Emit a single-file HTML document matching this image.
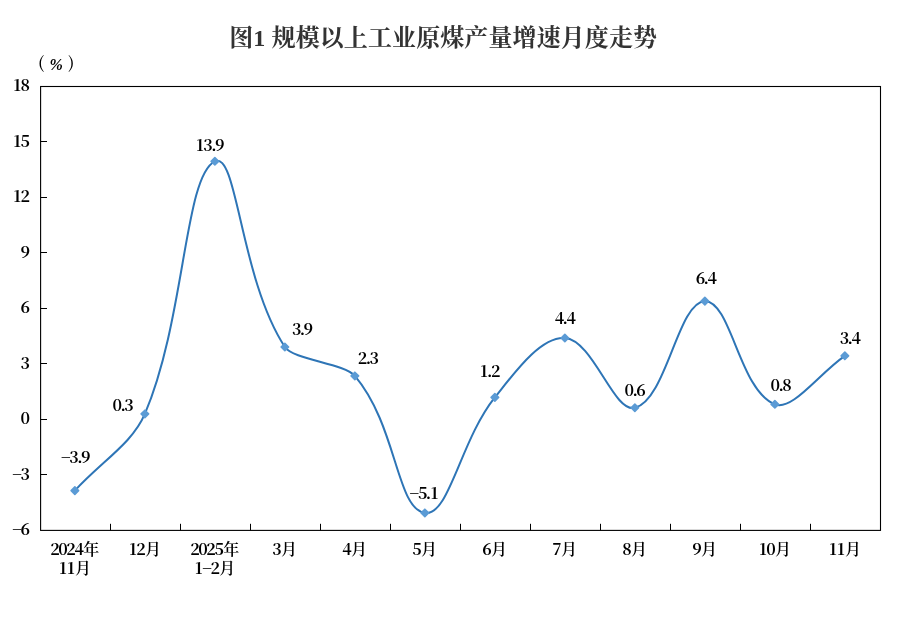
<!DOCTYPE html>
<html lang="zh"><head><meta charset="utf-8"><title>图1 规模以上工业原煤产量增速月度走势</title>
<style>html,body{margin:0;padding:0;background:#fff}svg{display:block}text{font-family:"Noto Serif CJK SC","Liberation Serif",serif;fill:#000;font-size:16px;font-weight:700;letter-spacing:0}.t{font-family:"Liberation Serif","Noto Serif CJK SC",serif;font-size:24px;font-weight:700;fill:#333;letter-spacing:0.1px}.c{font-size:16px;font-weight:600;letter-spacing:0}.p{font-size:16.5px;font-weight:600;text-shadow:none}</style></head><body>
<svg width="909" height="622" viewBox="0 0 909 622">
<rect width="909" height="622" fill="#fff"/>
<text class="t" x="443.2" y="46" text-anchor="middle">图1 规模以上工业原煤产量增速月度走势</text>
<text class="p" y="69"><tspan x="37.9">(</tspan><tspan x="49.4" y="70" style="font-family:'Liberation Serif',serif;font-style:italic;font-weight:700;font-size:16px">%</tspan><tspan x="67.9" y="69">)</tspan></text>
<rect x="40.6" y="86.5" width="839.9" height="443.9" fill="none" stroke="#000" stroke-width="1.1"/>
<path d="M110.5,530.4v-6.6M180.5,530.4v-6.6M250.5,530.4v-6.6M320.5,530.4v-6.6M390.5,530.4v-6.6M460.5,530.4v-6.6M530.5,530.4v-6.6M600.5,530.4v-6.6M670.5,530.4v-6.6M740.5,530.4v-6.6M810.5,530.4v-6.6M40.6,474.5h6.4M40.6,419.5h6.4M40.6,363.5h6.4M40.6,308.5h6.4M40.6,252.5h6.4M40.6,197.5h6.4M40.6,141.5h6.4" stroke="#000" stroke-width="1" fill="none"/>
<text x="12.27 20.62" y="535.2">−6</text>
<text x="12.27 20.62" y="479.7">−3</text>
<text x="20.62" y="424.2">0</text>
<text x="20.62" y="368.7">3</text>
<text x="20.62" y="313.2">6</text>
<text x="20.60" y="257.8">9</text>
<text x="13.59 20.62" y="202.3">12</text>
<text x="13.59 20.62" y="146.8">15</text>
<text x="13.59 20.62" y="91.3">18</text>
<text x="50.23 58.29 66.33 74.39 83.16" y="555.3">2024<tspan class="c">年</tspan></text>
<text x="59.30 67.35 75.11" y="574.3">11<tspan class="c">月</tspan></text>
<text x="129.30 136.33 145.11" y="555.3">12<tspan class="c">月</tspan></text>
<text x="190.23 198.29 206.33 214.38 223.16" y="555.3">2025<tspan class="c">年</tspan></text>
<text x="195.05 202.23 210.58 219.36" y="574.3">1−2<tspan class="c">月</tspan></text>
<text x="272.31 281.09" y="555.3">3<tspan class="c">月</tspan></text>
<text x="342.31 351.09" y="555.3">4<tspan class="c">月</tspan></text>
<text x="412.30 421.09" y="555.3">5<tspan class="c">月</tspan></text>
<text x="482.30 491.09" y="555.3">6<tspan class="c">月</tspan></text>
<text x="552.35 561.09" y="555.3">7<tspan class="c">月</tspan></text>
<text x="622.30 631.09" y="555.3">8<tspan class="c">月</tspan></text>
<text x="692.29 701.09" y="555.3">9<tspan class="c">月</tspan></text>
<text x="759.30 766.34 775.11" y="555.3">10<tspan class="c">月</tspan></text>
<text x="829.30 837.35 845.11" y="555.3">11<tspan class="c">月</tspan></text>
<path d="M74.86,490.61C101.46,461.46 132.22,443.63 144.86,413.90C185.42,318.50 184.23,175.95 214.86,161.32C237.43,150.54 239.92,278.16 284.86,347.04C293.12,359.70 344.29,363.37 354.86,375.90C397.49,426.40 396.04,508.48 424.86,512.90C449.24,516.64 460.12,440.78 494.86,397.39C513.32,374.33 540.24,336.21 564.86,338.04C593.44,340.16 613.58,413.40 634.86,407.79C666.78,399.38 677.83,301.81 704.86,301.14C731.03,300.49 739.28,390.42 774.86,404.32C792.48,411.20 818.26,374.26 844.86,355.84" fill="none" stroke="#2e75b6" stroke-width="2" stroke-linecap="round" stroke-linejoin="round"/>
<path d="M74.86,486.91l3.7,3.7l-3.7,3.7l-3.7,-3.7zM144.86,410.20l3.7,3.7l-3.7,3.7l-3.7,-3.7zM214.86,157.62l3.7,3.7l-3.7,3.7l-3.7,-3.7zM284.86,343.34l3.7,3.7l-3.7,3.7l-3.7,-3.7zM354.86,372.20l3.7,3.7l-3.7,3.7l-3.7,-3.7zM424.86,509.20l3.7,3.7l-3.7,3.7l-3.7,-3.7zM494.86,393.69l3.7,3.7l-3.7,3.7l-3.7,-3.7zM564.86,334.34l3.7,3.7l-3.7,3.7l-3.7,-3.7zM634.86,404.09l3.7,3.7l-3.7,3.7l-3.7,-3.7zM704.86,297.44l3.7,3.7l-3.7,3.7l-3.7,-3.7zM774.86,400.62l3.7,3.7l-3.7,3.7l-3.7,-3.7zM844.86,352.14l3.7,3.7l-3.7,3.7l-3.7,-3.7z" fill="#5b9bd5" stroke="#5b9bd5" stroke-width="1.6" stroke-linejoin="round"/>
<text x="60.92 69.28 77.21 81.00" y="463.0">−3.9</text>
<text x="112.58 120.51 124.33" y="411.0">0.3</text>
<text x="196.27 203.30 211.24 215.03" y="151.0">13.9</text>
<text x="291.88 299.81 303.60" y="335.0">3.9</text>
<text x="357.72 365.66 369.48" y="364.0">2.3</text>
<text x="409.57 417.92 425.86 430.69" y="499.0">−5.1</text>
<text x="480.19 487.11 490.92" y="377.3">1.2</text>
<text x="554.67 562.61 566.42" y="324.3">4.4</text>
<text x="624.58 632.51 636.32" y="395.7">0.6</text>
<text x="695.67 703.61 707.42" y="284.4">6.4</text>
<text x="770.48 778.41 782.22" y="390.7">0.8</text>
<text x="839.67 847.61 851.42" y="343.9">3.4</text>
</svg></body></html>
